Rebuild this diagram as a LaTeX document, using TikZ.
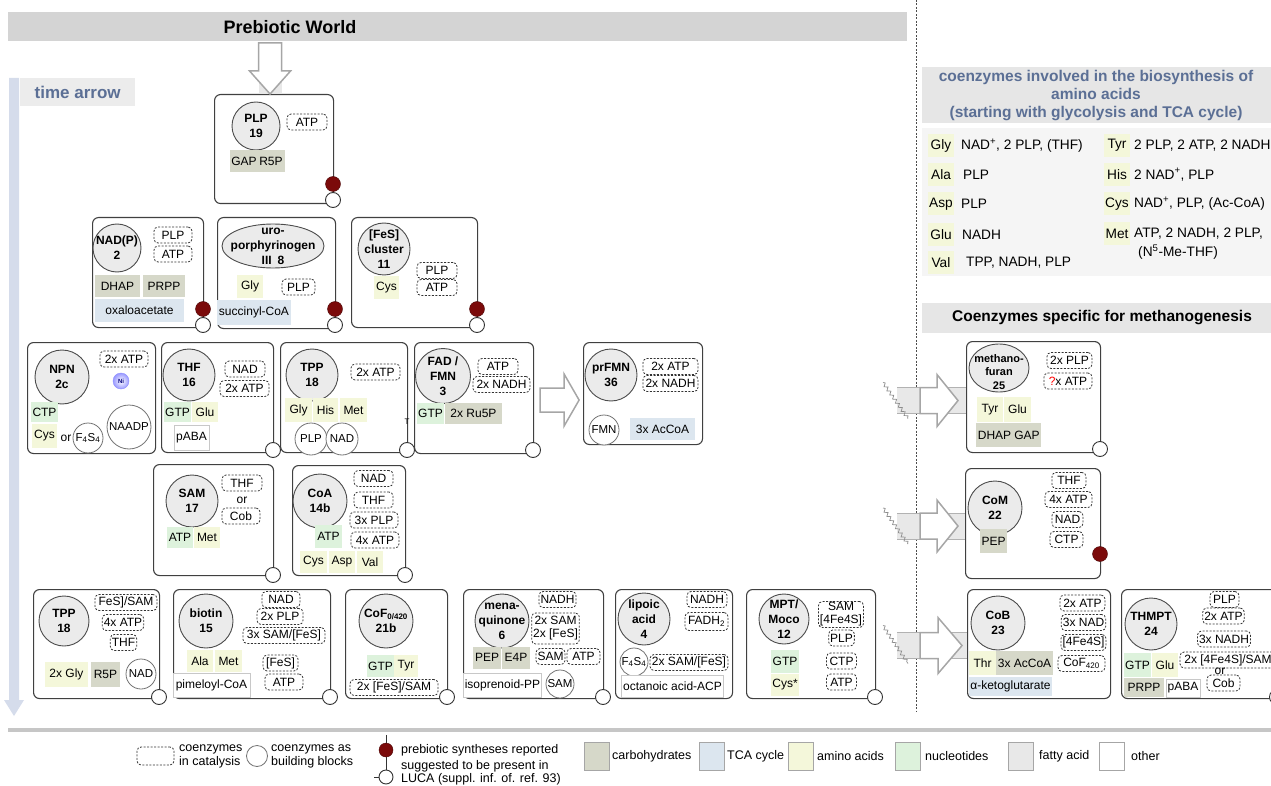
\documentclass[tikz,border=0pt]{standalone}
\usepackage{fontspec}
\setmainfont{Liberation Sans}
\usetikzlibrary{shapes.geometric,decorations.pathmorphing}

\definecolor{carbc}{HTML}{D6D8C9}
\definecolor{tcac}{HTML}{DCE6EF}
\definecolor{aminoc}{HTML}{F4F7DA}
\definecolor{nuclc}{HTML}{DDF2DC}
\definecolor{fatc}{HTML}{E8E8E8}
\definecolor{corec}{HTML}{EBEBEB}
\definecolor{lucared}{HTML}{7B0A0A}
\definecolor{headc}{HTML}{D4D4D4}
\definecolor{panelc}{HTML}{E6E6E6}
\definecolor{slate}{HTML}{5B6F95}
\definecolor{timec}{HTML}{D5DCEB}
\definecolor{otherc}{HTML}{C8C8C8}

\begin{document}
\begin{tikzpicture}[
    x=1pt, y=-1pt,
    font=\fontsize{12}{14}\selectfont,
    cbox/.style={draw=black!75, line width=1.1pt, rounded corners=6pt, anchor=north west, inner sep=0pt},
    core/.style={circle, draw=black!70, line width=0.9pt, fill=corec, inner sep=0pt},
    oval/.style={core, ellipse},
    corel/.style={align=center, inner sep=0pt, font=\bfseries\fontsize{12}{15}\selectfont},
    cat/.style={draw=black!80, dash pattern=on 2pt off 1.5pt, line width=0.8pt, rounded corners=4pt, fill=white, inner xsep=1.5pt, inner ysep=1pt, minimum height=16, align=center, font=\fontsize{12}{13}\selectfont},
    chip/.style={inner xsep=1.5pt, inner ysep=0pt, minimum height=22, minimum width=26},
    carb/.style={chip, fill=carbc},
    tca/.style={chip, fill=tcac},
    amino/.style={chip, fill=aminoc},
    nucl/.style={chip, fill=nuclc},
    oth/.style={chip, draw=otherc, line width=1pt, fill=white},
    bb/.style={circle, draw=black!55, line width=0.8pt, fill=white, inner sep=0pt, font=\fontsize{11.5}{13}\selectfont},
    prebio/.style={circle, draw=lucared!60!black, fill=lucared, minimum size=15, inner sep=0pt},
    luca/.style={circle, draw=black!80, line width=0.9pt, fill=white, minimum size=15, inner sep=0pt},
    hollow/.style={draw=black!35, line width=1.5pt, fill=white},
    wave/.style={draw=black!45, line width=0.7pt, decorate, decoration={snake, amplitude=1.6pt, segment length=5pt}},
    aatext/.style={anchor=west, inner sep=0pt, font=\fontsize{13.7}{16}\selectfont},
    leg/.style={anchor=west, align=left, inner sep=0pt, font=\fontsize{12.5}{14}\selectfont},
    swatch/.style={chip, draw=black!35, line width=0.6pt, minimum width=25, minimum height=28}
  ]
  \useasboundingbox (0,0) rectangle (1271,786);

  % Frame
  \node[fill=headc, minimum width=899, minimum height=29, anchor=north west, inner sep=0pt] (world) at (8,12) {};
  \node[font=\bfseries\fontsize{18}{20}\selectfont] (world-t) at (290,27) {Prebiotic World};
  \fill[timec] (9,78) -- (19,78) -- (19,700) -- (24,700) -- (14,716) -- (4,700) -- (9,700) -- cycle;
  \node[fill=gray!15, minimum width=115, minimum height=28, anchor=north west, text=slate, font=\bfseries\fontsize{17}{19}\selectfont] (time) at (20,78) {time arrow};
  \draw[black!70, line width=0.8pt, dash pattern=on 2pt off 1.5pt] (916,0) -- (916,712);
  \draw[gray!45, line width=4.5pt] (8,730) -- (1271,730);

  % PLP
  \node[cbox, minimum width=119, minimum height=109] (plp) at (214,94) {};
  \node[core, minimum size=48] (plp-c) at (256,126) {};
  \node[corel] (plp-l) at (plp-c) {PLP\\19};
  \node[cat, minimum width=40] (plp-atp) at (307,122) {ATP};
  \node[carb, minimum width=26] (plp-gap) at (244,161) {GAP};
  \node[carb, minimum width=27] (plp-r5p) at (271,161) {R5P};
  \node[prebio] (plp-pre) at (333,184) {};
  \node[luca] (plp-luca) at (333,200) {};
  \fill[fatc] ([xshift=-15.5pt]plp.north) rectangle ++(23,-23);
  \draw[hollow] ([xshift=-4pt]plp.north) -- ++(20.5,-23) -- ++(-9,0) -- ++(0,-28) -- ++(-23,0) -- ++(0,28) -- ++(-9,0) -- cycle;

  % NAD(P)
  \node[cbox, minimum width=111, minimum height=110] (nadp) at (92,217) {};
  \node[core, minimum size=48] (nadp-c) at (117,248) {};
  \node[corel] (nadp-l) at (nadp-c) {NAD(P)\\2};
  \node[cat, minimum width=38] (nadp-plp) at (173,235) {PLP};
  \node[cat, minimum width=38] (nadp-atp) at (173,254) {ATP};
  \node[carb, minimum width=45] (nadp-dhap) at (117.5,286) {DHAP};
  \node[carb, minimum width=42] (nadp-prpp) at (164,286) {PRPP};
  \node[tca, minimum width=89, minimum height=23] (nadp-oxa) at (139.5,310.5) {oxaloacetate};
  \node[prebio] (nadp-pre) at (203,309) {};
  \node[luca] (nadp-luca) at (203,325) {};

  % uroporphyrinogen
  \node[cbox, minimum width=118, minimum height=111] (uro) at (217,217) {};
  \node[oval, minimum width=102, minimum height=44] (uro-c) at (273,246) {};
  \node[corel] (uro-l) at (uro-c) {uro-\\porphyrinogen\\III\enspace 8};
  \node[amino, minimum width=26, minimum height=23] (uro-gly) at (250,286.5) {Gly};
  \node[cat, minimum width=33] (uro-plp) at (298.5,287) {PLP};
  \node[tca, minimum width=74, minimum height=25] (uro-suc) at (254,312.5) {succinyl-CoA};
  \node[prebio] (uro-pre) at (335,309) {};
  \node[luca] (uro-luca) at (335,325) {};

  % [FeS] cluster
  \node[cbox, minimum width=126, minimum height=110] (fes) at (351,217) {};
  \node[core, minimum size=52] (fes-c) at (384,249) {};
  \node[corel] (fes-l) at (fes-c) {{[FeS]}\\cluster\\11};
  \node[cat, minimum width=40] (fes-plp) at (437,270.5) {PLP};
  \node[cat, minimum width=40] (fes-atp) at (437,287.5) {ATP};
  \node[amino, minimum width=25, minimum height=23] (fes-cys) at (386.5,287.5) {Cys};
  \node[prebio] (fes-pre) at (477,309) {};
  \node[luca] (fes-luca) at (477,325) {};

  % NPN
  \node[cbox, minimum width=128, minimum height=111] (npn) at (27,342) {};
  \node[core, minimum size=54] (npn-c) at (62,377) {};
  \node[corel] (npn-l) at (npn-c) {NPN\\2c};
  \node[cat, minimum width=48] (npn-atp) at (124,359) {2x ATP};
  \node[circle, draw=blue!45, inner color=white, outer color=blue!40, minimum size=16, inner sep=0pt, text=blue!50!black, font=\bfseries\fontsize{6}{7}\selectfont] (npn-ni) at (121,381) {Ni};
  \node[nucl, minimum width=25, minimum height=20] (npn-ctp) at (44.5,412) {CTP};
  \node[amino, minimum width=25, minimum height=24] (npn-cys) at (44.5,436) {Cys};
  \node (npn-or) at (66,438) {or};
  \node[bb, minimum size=30] (npn-fes) at (88,438) {F\textsubscript{4}S\textsubscript{4}};
  \node[bb, minimum size=44] (npn-naadp) at (129,427) {NAADP};

  % THF
  \node[cbox, minimum width=112, minimum height=110] (thf) at (161,342) {};
  \node[core, minimum size=52] (thf-c) at (189,375) {};
  \node[corel] (thf-l) at (thf-c) {THF\\16};
  \node[cat, minimum width=40] (thf-nad) at (245,369) {NAD};
  \node[cat, minimum width=49] (thf-atp) at (244.5,388.5) {2x ATP};
  \node[nucl, minimum width=27, minimum height=20] (thf-gtp) at (177.5,412) {GTP};
  \node[amino, minimum width=26, minimum height=20] (thf-glu) at (205,412) {Glu};
  \node[oth, minimum width=35, minimum height=25] (thf-paba) at (191.5,437.5) {pABA};
  \node[luca] (thf-luca) at (273,450) {};

  % TPP (row 3)
  \node[cbox, minimum width=127, minimum height=110] (tppa) at (280,342) {};
  \node[core, minimum size=52] (tppa-c) at (312,375) {};
  \node[corel] (tppa-l) at (tppa-c) {TPP\\18};
  \node[cat, minimum width=49] (tppa-atp) at (375.5,372) {2x ATP};
  \node[amino, minimum width=27, minimum height=24] (tppa-gly) at (298.5,410) {Gly};
  \node[amino, minimum width=25, minimum height=24] (tppa-his) at (325.5,410) {His};
  \node[amino, minimum width=27, minimum height=24] (tppa-met) at (353.5,410) {Met};
  \node[bb, minimum size=32] (tppa-plp) at (311,439) {PLP};
  \node[bb, minimum size=32] (tppa-nad) at (342,439) {NAD};
  \node[font=\fontsize{8}{8}\selectfont, inner sep=0pt] (tppa-t) at (407,422) {T};
  \node[luca] (tppa-luca) at (407,450) {};

  % FAD / FMN
  \node[cbox, minimum width=119, minimum height=111] (fad) at (414,342) {};
  \node[core, minimum size=55] (fad-c) at (443,376) {};
  \node[corel] (fad-l) at (fad-c) {FAD /\\FMN\\3};
  \node[cat, minimum width=40] (fad-atp) at (498,366.5) {ATP};
  \node[cat, minimum width=57] (fad-nadh) at (501.5,384.5) {2x NADH};
  \node[nucl, minimum width=27, minimum height=21] (fad-gtp) at (430.5,413.5) {GTP};
  \node[carb, minimum width=57, minimum height=21] (fad-ru5p) at (473.5,413.5) {2x Ru5P};
  \node[luca] (fad-luca) at (533,450) {};

  % prFMN
  \node[cbox, minimum width=119, minimum height=102] (prfmn) at (583,342) {};
  \node[core, minimum size=52] (prfmn-c) at (611,375) {};
  \node[corel] (prfmn-l) at (prfmn-c) {prFMN\\36};
  \node[cat, minimum width=55] (prfmn-atp) at (670.5,366.5) {2x ATP};
  \node[cat, minimum width=55] (prfmn-nadh) at (670.5,383.5) {2x NADH};
  \node[bb, minimum size=30] (prfmn-fmn) at (604,430) {FMN};
  \node[tca, minimum width=65] (prfmn-accoa) at (662.5,429) {3x AcCoA};
  \draw[hollow] ([shift={(6,-10)}]fad.east) -- ++(24,0) -- ++(0,-14) -- ++(15,26) -- ++(-15,26) -- ++(0,-14) -- ++(-24,0) -- cycle;

  % SAM
  \node[cbox, minimum width=120, minimum height=111] (sam) at (153,464) {};
  \node[core, minimum size=52] (sam-c) at (192,501) {};
  \node[corel] (sam-l) at (sam-c) {SAM\\17};
  \node[cat, minimum width=40] (sam-thf) at (242,483) {THF};
  \node (sam-or) at (242,500) {or};
  \node[cat, minimum width=38] (sam-cob) at (241,516) {Cob};
  \node[nucl, minimum width=26, minimum height=21] (sam-atp) at (180,537.5) {ATP};
  \node[amino, minimum width=26, minimum height=21] (sam-met) at (207,537.5) {Met};
  \node[luca] (sam-luca) at (273,575) {};

  % CoA
  \node[cbox, minimum width=113, minimum height=110] (coa) at (292,465) {};
  \node[core, minimum size=54] (coa-c) at (320,501) {};
  \node[corel] (coa-l) at (coa-c) {CoA\\14b};
  \node[cat, minimum width=39] (coa-nad) at (373.5,478.5) {NAD};
  \node[cat, minimum width=39] (coa-thf) at (373.5,500) {THF};
  \node[cat, minimum width=48] (coa-plp) at (374,520) {3x PLP};
  \node[cat, minimum width=48] (coa-atp4) at (375,540) {4x ATP};
  \node[nucl, minimum width=27, minimum height=23] (coa-atp) at (328.5,536.5) {ATP};
  \node[amino, minimum width=27] (coa-cys) at (313.5,562) {Cys};
  \node[amino, minimum width=26] (coa-asp) at (342,562) {Asp};
  \node[amino, minimum width=26] (coa-val) at (370,562) {Val};
  \node[luca] (coa-luca) at (405,575) {};

  % TPP (row 5)
  \node[cbox, minimum width=126, minimum height=109] (tppb) at (33,589) {};
  \node[core, minimum size=50] (tppb-c) at (64,621) {};
  \node[corel] (tppb-l) at (tppb-c) {TPP\\18};
  \node[cat, minimum width=62] (tppb-sam) at (126,602.5) {FeS]/SAM};
  \node[cat, minimum width=40] (tppb-atp) at (123,622.5) {4x ATP};
  \node[cat, minimum width=25] (tppb-thf) at (123.5,642.5) {THF};
  \node[amino, minimum width=43, minimum height=25] (tppb-gly) at (66.5,674.5) {2x Gly};
  \node[carb, minimum width=29, minimum height=25] (tppb-r5p) at (105.5,674.5) {R5P};
  \node[bb, minimum size=30] (tppb-nad) at (141,674) {NAD};
  \node[luca] (tppb-luca) at (159,697) {};

  % biotin
  \node[cbox, minimum width=157, minimum height=109] (biotin) at (173,589) {};
  \node[core, minimum size=54] (biotin-c) at (206,621) {};
  \node[corel] (biotin-l) at (biotin-c) {biotin\\15};
  \node[cat, minimum width=38] (biotin-nad) at (281,599.5) {NAD};
  \node[cat, minimum width=46] (biotin-plp) at (280,616.5) {2x PLP};
  \node[cat, minimum width=82] (biotin-sam) at (284,635.5) {3x SAM/[FeS]};
  \node[cat, minimum width=35] (biotin-fes) at (280.5,663) {[FeS]};
  \node[cat, minimum width=38] (biotin-atp) at (284,682) {ATP};
  \node[amino, minimum width=26] (biotin-ala) at (200,661) {Ala};
  \node[amino, minimum width=27] (biotin-met) at (228.5,661) {Met};
  \node[oth, minimum width=77, minimum height=24] (biotin-pim) at (211.5,685) {pimeloyl-CoA};
  \node[luca] (biotin-luca) at (330,697) {};

  % CoF
  \node[cbox, minimum width=102, minimum height=109] (cof) at (345,589) {};
  \node[core, minimum size=54] (cof-c) at (386,621) {};
  \node[corel] (cof-l) at (cof-c) {CoF\textsubscript{0/420}\\21b};
  \node[nucl, minimum width=25] (cof-gtp) at (380.5,666) {GTP};
  \node[amino, minimum width=24] (cof-tyr) at (406,666) {Tyr};
  \node[cat, minimum width=88] (cof-fes) at (394,687.5) {2x [FeS]/SAM};
  \node[luca] (cof-luca) at (447,697) {};

  % menaquinone
  \node[cbox, minimum width=140, minimum height=109] (mk) at (463,589) {};
  \node[core, minimum size=54] (mk-c) at (502,621) {};
  \node[corel] (mk-l) at (mk-c) {mena-\\quinone\\6};
  \node[cat, minimum width=33] (mk-nadh) at (557.5,599.5) {NADH};
  \node[cat, minimum width=39, minimum height=31] (mk-sam2) at (555.5,628.5) {2x SAM\\2x [FeS]};
  \node[cat, minimum width=29] (mk-sam) at (550.5,656.5) {SAM};
  \node[cat, minimum width=33] (mk-atp) at (583.5,656.5) {ATP};
  \node[carb, minimum width=28] (mk-pep) at (487,657.5) {PEP};
  \node[carb, minimum width=28] (mk-e4p) at (516,657.5) {E4P};
  \node[oth, minimum width=75, minimum height=24] (mk-iso) at (502.5,685) {isoprenoid-PP};
  \node[bb, minimum size=28] (mk-samb) at (560,684) {SAM};
  \node[luca] (mk-luca) at (603,697) {};

  % lipoic acid
  \node[cbox, minimum width=117, minimum height=109] (lip) at (615,589) {};
  \node[core, minimum size=52] (lip-c) at (644,619) {};
  \node[corel] (lip-l) at (lip-c) {lipoic\\acid\\4};
  \node[cat, minimum width=40] (lip-nadh) at (707,599.5) {NADH};
  \node[cat, minimum width=43, minimum height=18] (lip-fadh) at (706.5,621.5) {FADH\textsubscript{2}};
  \node[bb, minimum size=28] (lip-fes) at (634,662) {F\textsubscript{4}S\textsubscript{4}};
  \node[cat, minimum width=78] (lip-sam) at (689,662.5) {2x SAM/[FeS]};
  \node[oth, minimum width=101, minimum height=22] (lip-oct) at (672.5,686) {octanoic acid-ACP};

  % MPT / Moco
  \node[cbox, minimum width=129, minimum height=109] (mpt) at (746,589) {};
  \node[core, minimum size=50] (mpt-c) at (784,619) {};
  \node[corel] (mpt-l) at (mpt-c) {MPT/\\Moco\\12};
  \node[cat, minimum width=42, minimum height=26] (mpt-sam) at (841,614.5) {SAM\\{}[4Fe4S]};
  \node[cat, minimum width=23] (mpt-plp) at (841.5,638) {PLP};
  \node[cat, minimum width=30] (mpt-ctp) at (841.5,661) {CTP};
  \node[cat, minimum width=30] (mpt-atp) at (841.5,682) {ATP};
  \node[nucl, minimum width=26, minimum height=23] (mpt-gtp) at (785,661.5) {GTP};
  \node[amino, minimum width=26, minimum height=22] (mpt-cys) at (785,685) {Cys*};
  \node[luca] (mpt-luca) at (875,697) {};

  % Amino acid panel
  \node[fill=panelc, minimum width=349, minimum height=56, anchor=north west, inner sep=0pt] (aahead) at (922,67) {};
  \node[text=slate, align=center, font=\bfseries\fontsize{15.5}{18}\selectfont] (aahead-t) at (1096,96) {coenzymes involved in the biosynthesis of\\amino acids\\(starting with glycolysis and TCA cycle)};
  \node[fill=gray!8, minimum width=349, minimum height=148, anchor=north west, inner sep=0pt] (aapanel) at (922,128) {};
  \node[amino, minimum height=23, font=\fontsize{13.7}{16}\selectfont] (aa-gly) at (941,145.5) {Gly};
  \node[aatext] (aa-gly-t) at (961,145.5) {NAD\textsuperscript{+}, 2 PLP, (THF)};
  \node[amino, minimum height=23, font=\fontsize{13.7}{16}\selectfont] (aa-ala) at (941,174.5) {Ala};
  \node[aatext] (aa-ala-t) at (963,174.5) {PLP};
  \node[amino, minimum height=23, font=\fontsize{13.7}{16}\selectfont] (aa-asp) at (941,204) {Asp};
  \node[aatext] (aa-asp-t) at (961,204) {PLP};
  \node[amino, minimum height=23, font=\fontsize{13.7}{16}\selectfont] (aa-glu) at (941,234.5) {Glu};
  \node[aatext] (aa-glu-t) at (962,234.5) {NADH};
  \node[amino, minimum height=23, font=\fontsize{13.7}{16}\selectfont] (aa-val) at (941,263) {Val};
  \node[aatext] (aa-val-t) at (966,263) {TPP, NADH, PLP};
  \node[amino, minimum height=23, font=\fontsize{13.7}{16}\selectfont] (aa-tyr) at (1117,145.5) {Tyr};
  \node[aatext] (aa-tyr-t) at (1134,145.5) {2 PLP, 2 ATP, 2 NADH};
  \node[amino, minimum height=23, font=\fontsize{13.7}{16}\selectfont] (aa-his) at (1117,174.5) {His};
  \node[aatext] (aa-his-t) at (1134,174.5) {2 NAD\textsuperscript{+}, PLP};
  \node[amino, minimum height=23, font=\fontsize{13.7}{16}\selectfont] (aa-cys) at (1117,204) {Cys};
  \node[aatext] (aa-cys-t) at (1134,204) {NAD\textsuperscript{+}, PLP, (Ac-CoA)};
  \node[amino, minimum height=23, font=\fontsize{13.7}{16}\selectfont] (aa-met) at (1117,233.5) {Met};
  \node[aatext] (aa-met-t) at (1134,233.5) {ATP, 2 NADH, 2 PLP,};
  \node[aatext] (aa-met-t2) at (1138,252) {(N\textsuperscript{5}-Me-THF)};

  % Methanogenesis
  \node[fill=panelc, minimum width=349, minimum height=30, anchor=north west, inner sep=0pt] (mhead) at (922,303) {};
  \node[font=\bfseries\fontsize{15.5}{17}\selectfont] (mhead-t) at (1102,318) {Coenzymes specific for methanogenesis};

  \node[cbox, minimum width=134, minimum height=111] (mf) at (966,341) {};
  \node[oval, minimum width=60, minimum height=48] (mf-c) at (999,368) {};
  \node[corel, font=\bfseries\fontsize{11}{13.5}\selectfont] (mf-l) at (999,372) {methano-\\furan\\25};
  \node[cat, minimum width=45] (mf-plp) at (1069.5,360.5) {2x PLP};
  \node[cat, minimum width=48] (mf-atp) at (1068,381) {{\color{red}?}x ATP};
  \node[amino, minimum width=26, minimum height=25] (mf-tyr) at (990,409.5) {Tyr};
  \node[amino, minimum width=27, minimum height=25] (mf-glu) at (1017.5,409.5) {Glu};
  \node[carb, minimum width=35, minimum height=24] (mf-dhap) at (994.5,435) {DHAP};
  \node[carb, minimum width=28, minimum height=24] (mf-gap) at (1027,435) {GAP};
  \node[luca] (mf-luca) at (1100,449) {};

  \node[cbox, minimum width=135, minimum height=110] (com) at (965,468) {};
  \node[core, minimum size=54] (com-c) at (995,508) {};
  \node[corel] (com-l) at (com-c) {CoM\\22};
  \node[cat, minimum width=34] (com-thf) at (1069,480.5) {THF};
  \node[cat, minimum width=47] (com-atp) at (1068.5,499.5) {4x ATP};
  \node[cat, minimum width=31] (com-nad) at (1067.5,519.5) {NAD};
  \node[cat, minimum width=33] (com-ctp) at (1066.5,539.5) {CTP};
  \node[carb, minimum width=27, minimum height=24] (com-pep) at (993.5,541) {PEP};
  \node[prebio] (com-pre) at (1100,554) {};

  \node[cbox, minimum width=143, minimum height=109] (cob) at (967,589) {};
  \node[core, minimum size=54] (cob-c) at (998,623) {};
  \node[corel] (cob-l) at (cob-c) {CoB\\23};
  \node[cat, minimum width=45] (cob-atp) at (1082.5,603) {2x ATP};
  \node[cat, minimum width=43] (cob-nad) at (1083.5,622.5) {3x NAD};
  \node[cat, minimum width=43] (cob-fes) at (1083.5,642.5) {[4Fe4S]};
  \node[cat, minimum width=47] (cob-cof) at (1081.5,663.5) {CoF\textsubscript{420}};
  \node[amino, minimum width=27, minimum height=24] (cob-thr) at (982.5,663) {Thr};
  \node[carb, minimum width=55, minimum height=24] (cob-accoa) at (1024.5,663) {3x AcCoA};
  \node[tca, minimum width=83, minimum height=19] (cob-akg) at (1010.5,686.5) {α-ketoglutarate};

  \node[cbox, minimum width=156, minimum height=109] (thmpt) at (1121,589) {};
  \node[core, minimum size=52] (thmpt-c) at (1151,624) {};
  \node[corel] (thmpt-l) at (thmpt-c) {THMPT\\24};
  \node[cat, minimum width=29] (thmpt-plp) at (1224.5,599.5) {PLP};
  \node[cat, minimum width=41] (thmpt-atp) at (1223.5,616) {2x ATP};
  \node[cat, minimum width=52] (thmpt-nadh) at (1224,639) {3x NADH};
  \node[cat, minimum width=96] (thmpt-sam) at (1228,660) {2x [4Fe4S]/SAM};
  \node[cat, minimum width=33] (thmpt-cob) at (1223.5,683) {Cob};
  \node[inner sep=0pt] (thmpt-or) at (1220,671) {or};
  \node[nucl, minimum width=27, minimum height=24] (thmpt-gtp) at (1137.5,665) {GTP};
  \node[amino, minimum width=26, minimum height=24] (thmpt-glu) at (1165,665) {Glu};
  \node[carb, minimum width=40, minimum height=19] (thmpt-prpp) at (1144,687.5) {PRPP};
  \node[oth, minimum width=34, minimum height=18] (thmpt-paba) at (1183,688) {pABA};
  \node[luca] (thmpt-luca) at (1277,697) {};

  % Feeding arrows
  \coordinate (mf-in) at ([shift={(0,3.5)}]mf.west);
  \fill[fatc] ([shift={(-69,-13)}]mf-in) rectangle ([shift={(0,13)}]mf-in);
  \draw[black!30, line width=1pt] ([shift={(-69,-13)}]mf-in) -- ([shift={(0,-13)}]mf-in) ([shift={(-69,13)}]mf-in) -- ([shift={(0,13)}]mf-in);
  \draw[wave] ([shift={(-83,-18)}]mf-in) -- ([shift={(-58,18)}]mf-in);
  \draw[hollow] ([shift={(-46,-13)}]mf-in) -- ++(17,0) -- ++(0,-13) -- ++(21,26) -- ++(-21,26) -- ++(0,-13) -- ++(-17,0) -- cycle;

  \coordinate (com-in) at ([shift={(0,2.5)}]com.west);
  \fill[fatc] ([shift={(-68,-13)}]com-in) rectangle ([shift={(0,13)}]com-in);
  \draw[black!30, line width=1pt] ([shift={(-68,-13)}]com-in) -- ([shift={(0,-13)}]com-in) ([shift={(-68,13)}]com-in) -- ([shift={(0,13)}]com-in);
  \draw[wave] ([shift={(-82,-18)}]com-in) -- ([shift={(-57,18)}]com-in);
  \draw[hollow] ([shift={(-45,-13)}]com-in) -- ++(17,0) -- ++(0,-13) -- ++(21,26) -- ++(-21,26) -- ++(0,-13) -- ++(-17,0) -- cycle;

  \coordinate (cob-in) at ([shift={(0,1.5)}]cob.west);
  \fill[fatc] ([shift={(-70,-13)}]cob-in) rectangle ([shift={(0,13)}]cob-in);
  \draw[black!30, line width=1pt] ([shift={(-70,-13)}]cob-in) -- ([shift={(0,-13)}]cob-in) ([shift={(-70,13)}]cob-in) -- ([shift={(0,13)}]cob-in);
  \draw[wave] ([shift={(-84,-20)}]cob-in) -- ([shift={(-59,18)}]cob-in);
  \draw[hollow] ([shift={(-47,-13)}]cob-in) -- ++(18,0) -- ++(0,-15) -- ++(24,28) -- ++(-24,28) -- ++(0,-15) -- ++(-18,0) -- cycle;

  % Legend
  \node[cat, minimum width=37, minimum height=18] (leg-cat) at (155.5,756) {};
  \node[leg] (leg-cat-t) at (179,756) {coenzymes\\in catalysis};
  \node[bb, minimum size=21] (leg-bb) at (257,756) {};
  \node[leg] (leg-bb-t) at (271,756) {coenzymes as\\building blocks};
  \node[prebio, minimum size=14] (leg-pre) at (386,750) {};
  \node[luca, minimum size=14] (leg-luca) at (386,777) {};
  \draw[black!80, line width=0.8pt] ([yshift=8pt]leg-pre.north) -- (leg-pre.north) (leg-pre) -- (leg-luca) (leg-luca.west) -- ++(-5,0);
  \node[leg] (leg-pre-t) at (401,750) {prebiotic syntheses reported};
  \node[leg, font=\fontsize{12.5}{13}\selectfont] (leg-luca-t) at (401,772.5) {suggested to be present in\\LUCA (suppl. inf. of. ref. 93)};
  \node[swatch, fill=carbc] (leg-carb) at (597,756) {};
  \node[leg] (leg-carb-t) at (612,756) {carbohydrates};
  \node[swatch, fill=tcac] (leg-tca) at (711.5,756) {};
  \node[leg] (leg-tca-t) at (727,756) {TCA cycle};
  \node[swatch, fill=aminoc] (leg-amino) at (801,756) {};
  \node[leg] (leg-amino-t) at (817,756) {amino acids};
  \node[swatch, fill=nuclc] (leg-nucl) at (908,756) {};
  \node[leg] (leg-nucl-t) at (925,756) {nucleotides};
  \node[swatch, fill=fatc] (leg-fat) at (1021,756) {};
  \node[leg] (leg-fat-t) at (1039,756) {fatty acid};
  \node[swatch, fill=white] (leg-oth) at (1111.5,756) {};
  \node[leg] (leg-oth-t) at (1131,756) {other};

\end{tikzpicture}
\end{document}
